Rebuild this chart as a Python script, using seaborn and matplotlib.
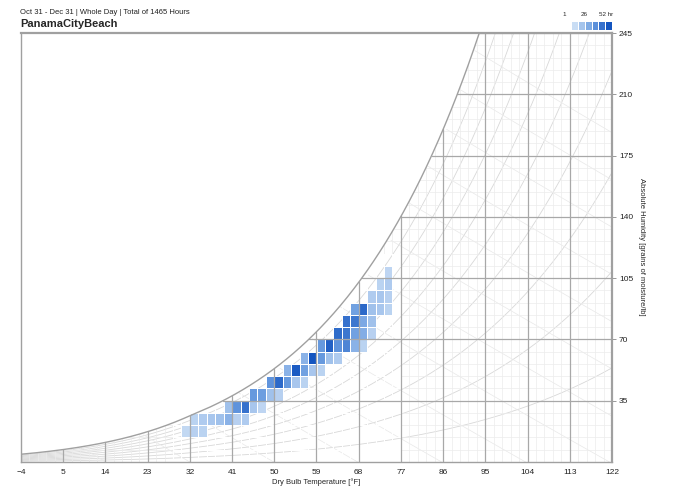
import numpy as np
import pandas as pd
import matplotlib.pyplot as plt
import seaborn as sns
from matplotlib.colors import LinearSegmentedColormap

# hours binned by 1 degC dry bulb x 1 g/kg humidity ratio
temp_bin_c = [23,
              22, 23,
              21, 22, 23,
              19, 20, 21, 22, 23,
              18, 19, 20, 21,
              17, 18, 19, 20, 21,
              15, 16, 17, 18, 19, 20,
              13, 14, 15, 16, 17,
              11, 12, 13, 14, 15,
              9, 10, 11, 12, 13,
              7, 8, 9, 10,
              4, 5, 6, 7, 8,
              0, 1, 2, 3, 4, 5, 6,
              -1, 0, 1]
hum_bin_gkg = [15,
               14, 14,
               13, 13, 13,
               12, 12, 12, 12, 12,
               11, 11, 11, 11,
               10, 10, 10, 10, 10,
               9, 9, 9, 9, 9, 9,
               8, 8, 8, 8, 8,
               7, 7, 7, 7, 7,
               6, 6, 6, 6, 6,
               5, 5, 5, 5,
               4, 4, 4, 4, 4,
               3, 3, 3, 3, 3, 3, 3,
               2, 2, 2]
hours = [4,
         5, 8,
         8, 10, 6,
         25, 45, 12, 10, 5,
         42, 40, 22, 12,
         44, 40, 25, 20, 6,
         28, 48, 30, 35, 18, 5,
         18, 52, 28, 12, 8,
         18, 50, 25, 10, 5,
         30, 45, 28, 10, 5,
         28, 26, 12, 6,
         12, 30, 42, 10, 4,
         5, 8, 10, 12, 18, 6, 8,
         3, 6, 5]

x_ticks = [-4, 5, 14, 23, 32, 41, 50, 59, 68, 77, 86, 95, 104, 113, 122]
y_ticks = [35, 70, 105, 140, 175, 210, 245]
rh_levels = [10, 20, 30, 40, 50, 60, 70, 80, 90]
enthalpy_levels = list(range(-10, 130, 10))   # kJ/kg
legend_levels = [1, 11, 21, 31, 42, 52]

title = 'Oct 31 - Dec 31 | Whole Day | Total of 1465 Hours'
location = 'PanamaCityBeach'

P_ATM = 101.325


def c_to_f(t):
    return np.asarray(t) * 1.8 + 32


def p_sat(t_c):
    t_c = np.asarray(t_c, dtype=float)
    water = 0.61094 * np.exp(17.625 * t_c / (t_c + 243.04))
    ice = 0.61115 * np.exp(22.452 * t_c / (272.55 + t_c))
    return np.where(t_c < 0, ice, water)


def grains(t_c, rh=1.0):
    pw = rh * p_sat(t_c)
    return 0.622 * pw / (P_ATM - pw) * 7000


df = pd.DataFrame({'t_c': temp_bin_c, 'w_gkg': hum_bin_gkg, 'hours': hours})
df['temp_f'] = c_to_f(df['t_c'] + 0.5)
df['grains'] = (df['w_gkg'] + 0.5) * 7

cmap = LinearSegmentedColormap.from_list('hrs', ['#c9ddf4', '#6b9de0', '#1455c0'])

sns.set_style('white')
plt.rcParams['font.family'] = ['Liberation Sans', 'DejaVu Sans']

fig = plt.figure(figsize=(6.79, 4.98), dpi=100)
ax = fig.add_axes([21 / 679, 36 / 498, 591 / 679, 429 / 498])

# psychrometric background
t_fine = np.linspace(-20, 50, 700)
sat = grains(t_fine)
tf_fine = c_to_f(t_fine)

for rh in rh_levels:
    ax.plot(tf_fine, grains(t_fine, rh / 100), color='#d8d8d8', lw=0.6, zorder=0.5)

w_line = np.linspace(0, 0.04, 200)
for h in enthalpy_levels:
    t_line = (h - 2501 * w_line) / (1.006 + 1.86 * w_line)
    g_line = w_line * 7000
    keep = g_line <= grains(t_line)
    ax.plot(c_to_f(t_line[keep]), g_line[keep], color='#e8e8e8', lw=0.5, zorder=0.5)

for tc in range(-20, 51):
    top = grains(tc)
    major = tc % 5 == 0
    ax.plot([c_to_f(tc)] * 2, [0, top], color='#a8a8a8' if major else '#ececec',
            lw=0.9 if major else 0.5, zorder=2 if major else 0.5)
for wg in range(1, 36):
    yv = wg * 7
    t_start = np.interp(yv, sat, tf_fine)
    major = wg % 5 == 0
    ax.plot([t_start, 122], [yv, yv], color='#a8a8a8' if major else '#ececec',
            lw=0.9 if major else 0.5, zorder=2 if major else 0.5)

ax.plot(tf_fine, sat, color='#a0a0a0', lw=1.0, zorder=2)

# hourly frequency cells
sns.histplot(data=df, x='temp_f', y='grains', weights='hours',
             binwidth=(1.8, 7), binrange=((c_to_f(-2), c_to_f(25)), (0, 119)),
             cmap=cmap, vmin=1, vmax=52, edgecolor='white', linewidth=0.7,
             ax=ax, zorder=1)

ax.set_xlim(-4, 122)
ax.set_ylim(0, 245)
ax.set_xticks(x_ticks)
ax.set_yticks(y_ticks)
ax.yaxis.tick_right()
ax.set_xlabel('')
ax.set_ylabel('')
ax.tick_params(axis='both', labelsize=6, colors='#222222', length=3, width=0.6, pad=2)
ax.tick_params(axis='both', color='#888888')
for side, sp in ax.spines.items():
    sp.set_color('#a0a0a0')
    sp.set_linewidth(1.6 if side in ('right', 'top') else 1.0)

fig.text(20 / 679, 1 - 13 / 498, title, fontsize=5.5, va='center', color='#222222')
fig.text(20 / 679, 1 - 24 / 498, location, fontsize=8, fontweight='bold', va='center')
fig.text(316 / 679, 1 - 482 / 498, 'Dry Bulb Temperature [°F]', fontsize=5.5,
         ha='center', va='center')
fig.text(641 / 679, 1 - 247 / 498, 'Absolute Humidity [grains of moisture/lb]',
         fontsize=5.5, rotation=-90, ha='center', va='center')

# legend strip
lax = fig.add_axes([571 / 679, (498 - 30) / 498, 41 / 679, 9 / 498])
sns.heatmap(np.array([legend_levels]), cmap=cmap, vmin=1, vmax=52, cbar=False,
            linewidths=0.4, linecolor='white', xticklabels=False, yticklabels=False, ax=lax)
fig.text(564 / 679, 1 - 14 / 498, '1', fontsize=4.5, ha='center', va='center')
fig.text(584 / 679, 1 - 14 / 498, '26', fontsize=4.5, ha='center', va='center')
fig.text(606 / 679, 1 - 14 / 498, '52 hr', fontsize=4.5, ha='center', va='center')

fig.savefig('out.png', dpi=100)
